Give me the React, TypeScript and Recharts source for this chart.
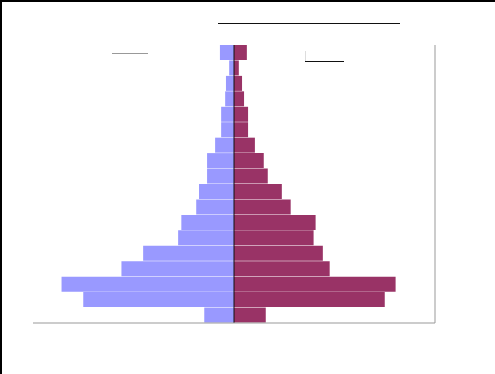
import React from "react";
import { Bar, BarChart, ReferenceLine, XAxis, YAxis } from "recharts";

// age groups, youngest first (drawn bottom-up)
const ageGroups = [
  "0-4", "5-9", "10-14", "15-19", "20-24", "25-29", "30-34", "35-39", "40-44",
  "45-49", "50-54", "55-59", "60-64", "65-69", "70-74", "75-79", "80-84", "85+",
];
const maleShare = [
  0.74, 3.75, 4.29, 2.8, 2.26, 1.39, 1.31, 0.94, 0.87,
  0.67, 0.67, 0.47, 0.32, 0.32, 0.22, 0.2, 0.12, 0.35,
];
const femaleShare = [
  0.79, 3.75, 4.02, 2.38, 2.21, 1.98, 2.03, 1.41, 1.19,
  0.84, 0.74, 0.52, 0.35, 0.35, 0.25, 0.2, 0.12, 0.32,
];
const xTicks = [-5, -4, -3, -2, -1, 0, 1, 2, 3, 4, 5];

const data = ageGroups.map((age, i) => ({
  age,
  male: -maleShare[i],
  female: femaleShare[i],
}));

const line = (style: React.CSSProperties) => (
  <div style={{ position: "absolute", ...style }} />
);

export default function App() {
  return (
    <div style={{ position: "absolute", left: 0, top: 0, width: 495, height: 374, background: "#fff" }}>
      <BarChart
        width={495}
        height={374}
        data={data}
        layout="vertical"
        stackOffset="sign"
        barCategoryGap={0}
        margin={{ top: 45, right: 60, left: 33, bottom: 0 }}
      >
        <XAxis
          type="number"
          domain={[-5, 5]}
          ticks={xTicks}
          height={51}
          tick={false}
          tickSize={3}
          axisLine={{ stroke: "#999" }}
          tickLine={{ stroke: "#bbb" }}
        />
        <YAxis type="category" dataKey="age" reversed hide width={0} />
        <Bar dataKey="male" stackId="p" fill="#9999FF" isAnimationActive={false} />
        <Bar dataKey="female" stackId="p" fill="#993366" isAnimationActive={false} />
        <ReferenceLine x={0} stroke="#111" strokeWidth={1} />
        <ReferenceLine x={5} stroke="#999" strokeWidth={1} />
      </BarChart>
      {/* frame and empty title/legend rules */}
      {line({ left: 0, top: 0, width: 495, height: 2, background: "#000" })}
      {line({ left: 0, top: 0, width: 2, height: 374, background: "#000" })}
      {line({ left: 218, top: 23, width: 182, height: 1, background: "#111" })}
      {line({ left: 112, top: 53, width: 36, height: 1, background: "#999" })}
      {line({ left: 305, top: 61, width: 39, height: 1, background: "#111" })}
      {line({ left: 305, top: 51, width: 1, height: 10, background: "#ddd" })}
    </div>
  );
}
